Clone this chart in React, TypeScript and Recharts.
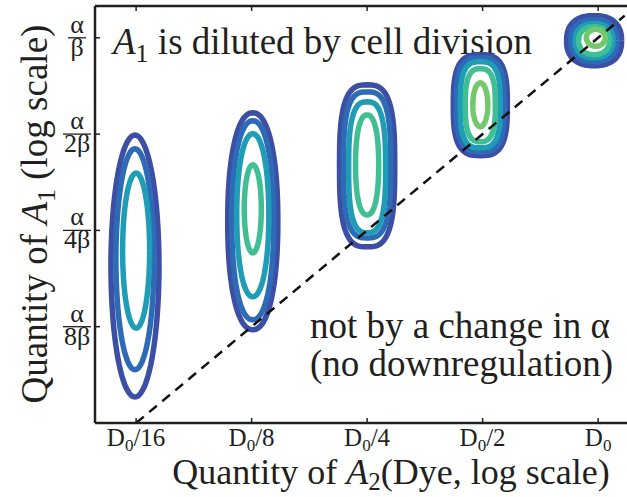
import React from "react";
import { ComposedChart, Line, XAxis, YAxis, Customized } from "recharts";

// log2 units: x = log2(dye / D0), y = log2(A1 * beta / alpha)
const X_TICKS = [-4, -3, -2, -1, 0];
const X_TICK_SUFFIX = ["/16", "/8", "/4", "/2", ""];
const Y_TICKS = [-3, -2, -1, 0];
const Y_TICK_DENOMS = ["8β", "4β", "2β", "β"];

// one row per contour line
const CONTOUR_CX = [
  -4.01, -4.01, -4.0,
  -2.99, -2.99, -2.99, -2.99,
  -2.0, -2.0, -2.0, -2.0,
  -1.02, -1.02, -1.02, -1.02, -1.02,
  -0.035, -0.035, -0.035, -0.035, -0.02,
];
const CONTOUR_CY = [
  -2.37, -2.3, -2.21,
  -1.905, -1.895, -1.843, -1.776,
  -1.33, -1.32, -1.345, -1.32,
  -0.7, -0.696, -0.696, -0.7, -0.696,
  -0.03, -0.03, -0.03, -0.03, 0.0,
];
const CONTOUR_HALF_W = [
  0.208, 0.165, 0.117,
  0.217, 0.182, 0.139, 0.074,
  0.239, 0.204, 0.16, 0.1,
  0.234, 0.208, 0.173, 0.13, 0.065,
  0.238, 0.2, 0.165, 0.134, 0.082,
];
const CONTOUR_HALF_H = [
  1.36, 1.147, 0.805,
  1.127, 1.033, 0.846, 0.457,
  0.841, 0.758, 0.68, 0.519,
  0.524, 0.488, 0.447, 0.379, 0.228,
  0.26, 0.218, 0.177, 0.145, 0.088,
];
const CONTOUR_SQUARENESS = [
  2, 2, 2,
  2.2, 2.2, 2.1, 2,
  3, 3, 2.8, 2.3,
  3, 3, 3, 2.8, 2,
  2.4, 2.4, 2.3, 2.2, 2,
];
const CONTOUR_LEVEL = [
  0, 1, 2,
  0, 1, 2, 3,
  0, 1, 2, 3,
  0, 1, 2, 3, 4,
  0, 1, 2, 3, 4,
];

const DIAGONAL = [
  { x: -4, y: -4 },
  { x: 0.23, y: 0.23 },
];

const LEVEL_COLORS = ["#3c4fa4", "#2d6bb7", "#1f9db6", "#3fbf93", "#72c86b"];
const INK = "#231f20";
const SERIF = '"Liberation Serif", "Times New Roman", serif';

function outline(i: number) {
  const pts = [];
  const e = 2 / CONTOUR_SQUARENESS[i];
  for (let k = 0; k <= 96; k++) {
    const t = (k / 96) * Math.PI * 2;
    const c = Math.cos(t);
    const s = Math.sin(t);
    pts.push({
      x: CONTOUR_CX[i] + CONTOUR_HALF_W[i] * Math.sign(c) * Math.pow(Math.abs(c), e),
      y: CONTOUR_CY[i] + CONTOUR_HALF_H[i] * Math.sign(s) * Math.pow(Math.abs(s), e),
    });
  }
  return pts;
}

const BottomTick = ({ x, y, payload }: any) => {
  const i = X_TICKS.indexOf(payload.value);
  return (
    <g>
      <line x1={x} x2={x} y1={y} y2={y - 5} stroke={INK} strokeWidth={1.5} />
      <text x={x} y={y + 23} textAnchor="middle" fontSize={25} fontFamily={SERIF} fill={INK}>
        D<tspan dy={5} fontSize={17}>0</tspan>
        <tspan dy={-5}>{X_TICK_SUFFIX[i]}</tspan>
      </text>
    </g>
  );
};

const TopTick = ({ x, y }: any) => (
  <line x1={x} x2={x} y1={y} y2={y + 5} stroke={INK} strokeWidth={1.5} />
);

const LeftTick = ({ x, y, payload }: any) => {
  const i = Y_TICKS.indexOf(payload.value);
  const denom = Y_TICK_DENOMS[i];
  const cx = x - 18;
  const w = denom.length > 1 ? 28 : 18;
  return (
    <g>
      <line x1={x} x2={x + 5} y1={y} y2={y} stroke={INK} strokeWidth={1.5} />
      <text x={cx} y={y - 5} textAnchor="middle" fontSize={26} fontFamily={SERIF} fill={INK}>
        α
      </text>
      <line x1={cx - w / 2} x2={cx + w / 2} y1={y} y2={y} stroke={INK} strokeWidth={1.3} />
      <text x={cx} y={y + 18} textAnchor="middle" fontSize={26} fontFamily={SERIF} fill={INK}>
        {denom}
      </text>
    </g>
  );
};

const Annotations = () => (
  <g fontFamily={SERIF} fill={INK}>
    <text x={113} y={54} fontSize={37}>
      <tspan fontStyle="italic">A</tspan>
      <tspan dy={8} fontSize={26}>1</tspan>
      <tspan dy={-8}> is diluted by cell division</tspan>
    </text>
    <text x={310} y={338} fontSize={37}>
      not by a change in α
    </text>
    <text x={310} y={376} fontSize={37}>
      (no downregulation)
    </text>
    <text x={391} y={484} fontSize={36} textAnchor="middle">
      Quantity of <tspan fontStyle="italic">A</tspan>
      <tspan dy={6} fontSize={25}>2</tspan>
      <tspan dy={-6}>(Dye, log scale)</tspan>
    </text>
    <text x={47} y={214} fontSize={37} textAnchor="middle" transform="rotate(-90, 47, 214)">
      Quantity of <tspan fontStyle="italic">A</tspan>
      <tspan dy={8} fontSize={26}>1</tspan>
      <tspan dy={-8}> (log scale)</tspan>
    </text>
  </g>
);

export default function App() {
  return (
    <div style={{ position: "absolute", left: 0, top: 0, background: "#fff" }}>
      <ComposedChart width={627} height={497} margin={{ top: 0, right: 0, bottom: 0, left: 0 }}>
        <XAxis
          dataKey="x"
          type="number"
          domain={[-4.356, 0.25]}
          ticks={X_TICKS}
          allowDataOverflow
          height={74}
          tickSize={0}
          tickMargin={0}
          tickLine={false}
          axisLine={{ stroke: INK, strokeWidth: 2.5 }}
          tick={<BottomTick />}
          interval={0}
        />
        <XAxis
          xAxisId="top"
          orientation="top"
          dataKey="x"
          type="number"
          domain={[-4.356, 0.25]}
          ticks={X_TICKS}
          allowDataOverflow
          height={6}
          tickSize={0}
          tickMargin={0}
          tickLine={false}
          axisLine={{ stroke: INK, strokeWidth: 2.5 }}
          tick={<TopTick />}
          interval={0}
        />
        <YAxis
          dataKey="y"
          type="number"
          domain={[-4, 0.33]}
          ticks={Y_TICKS}
          allowDataOverflow
          width={95}
          tickSize={0}
          tickMargin={0}
          tickLine={false}
          axisLine={{ stroke: INK, strokeWidth: 2.5 }}
          tick={<LeftTick />}
          interval={0}
        />
        {CONTOUR_CX.map((_, i) => (
          <Line
            key={`c-${i}`}
            data={outline(i)}
            dataKey="y"
            type="linear"
            stroke={LEVEL_COLORS[CONTOUR_LEVEL[i]]}
            strokeWidth={5.5}
            dot={false}
            activeDot={false}
            isAnimationActive={false}
          />
        ))}
        <Line
          data={DIAGONAL}
          dataKey="y"
          type="linear"
          stroke="#111"
          strokeWidth={2.5}
          strokeDasharray="10 7"
          dot={false}
          activeDot={false}
          isAnimationActive={false}
        />
        <Customized component={<Annotations />} />
      </ComposedChart>
    </div>
  );
}
